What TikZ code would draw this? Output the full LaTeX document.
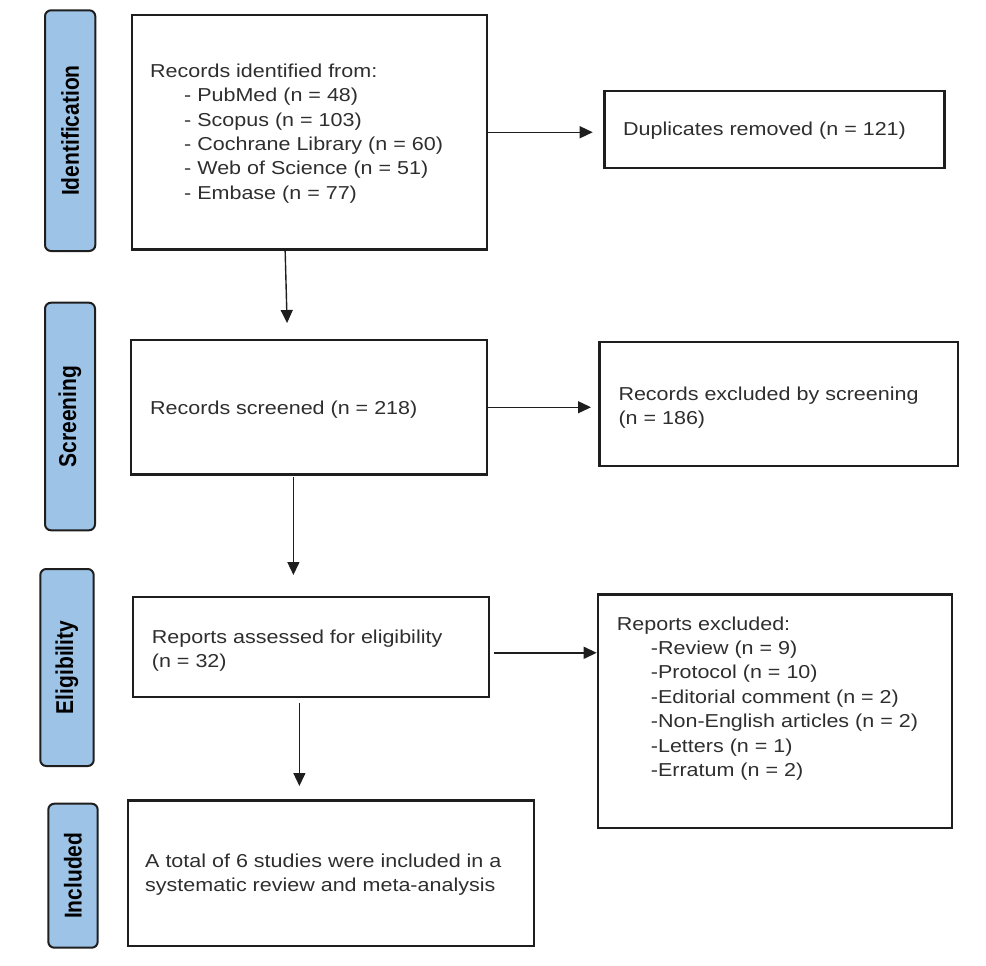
\documentclass[tikz,border=0pt]{standalone}
\usepackage{fontspec}
\setmainfont{Liberation Sans}
\newfontfamily\bodyf[FakeStretch=1.15]{Liberation Sans}
\usetikzlibrary{arrows.meta}
\definecolor{txtc}{HTML}{2E2E2E}
\definecolor{edgec}{HTML}{1E1E1E}
\definecolor{sidec}{HTML}{9DC3E6}
\begin{document}
\begin{tikzpicture}[x=1pt,y=-1pt,
  box/.style={draw=edgec, line width=2.2pt, rectangle, inner sep=0pt, anchor=north west},
  sidebox/.style={draw=edgec, fill=sidec, line width=2pt, rounded corners=6pt, rectangle, inner sep=0pt, anchor=north west},
  lab/.style={rotate=90, inner sep=0pt, text=black, font=\bfseries\fontsize{21}{21}\selectfont},
  txt/.style={anchor=base west, inner sep=0pt, text=txtc, font=\bodyf\fontsize{18.7}{24.4}\selectfont},
  arr/.style={draw=edgec, line width=1.4pt, -{Triangle[length=13pt,width=12pt]}}]
\useasboundingbox (0,0) rectangle (986,966);

% side boxes
\node[sidebox, minimum width=50.3pt, minimum height=240.7pt] (sid) at (44,9.3) {};
\node[sidebox, minimum width=50pt, minimum height=227.6pt] (ssc) at (44,301.7) {};
\node[sidebox, minimum width=53.4pt, minimum height=197pt] (sel) at (39.3,568) {};
\node[sidebox, minimum width=49.4pt, minimum height=144pt] (sin) at (47.3,802.7) {};
\node[lab] (lid) at (sid.center) {\scalebox{1}[1.16]{Identification}};
\node[lab] (lsc) at (ssc.center) {\scalebox{1}[1.16]{Screening}};
\node[lab] (lel) at (sel.center) {\scalebox{1}[1.16]{Eligibility}};
\node[lab] (lin) at (sin.center) {\scalebox{1}[1.16]{Included}};

% main boxes
\node[box, minimum width=355.3pt, minimum height=234.3pt] (ident) at (130.7,14) {};
\node[box, minimum width=340pt, minimum height=76.7pt] (dup) at (603.3,90) {};
\node[box, minimum width=356pt, minimum height=134.3pt] (screen) at (130,339) {};
\node[box, minimum width=358.4pt, minimum height=124pt] (excl) at (598.3,341) {};
\node[box, minimum width=356pt, minimum height=100pt] (elig) at (131.7,596) {};
\node[box, minimum width=354pt, minimum height=233.4pt] (rep) at (596.7,593.3) {};
\node[box, minimum width=406pt, minimum height=145.7pt] (incl) at (126.7,799.3) {};

% texts
\node[txt] (t1) at (150,77.3) {Records identified from:};
\node[txt] (t2) at (184,101.7) {- PubMed (n = 48)};
\node[txt] (t3) at (184,126.1) {- Scopus (n = 103)};
\node[txt] (t4) at (184,150.5) {- Cochrane Library (n = 60)};
\node[txt] (t5) at (184,174.9) {- Web of Science (n = 51)};
\node[txt] (t6) at (184,199.3) {- Embase (n = 77)};
\node[txt] (d1) at (623,135.5) {Duplicates removed (n = 121)};
\node[txt] (s1) at (150,414) {Records screened (n = 218)};
\node[txt] (e1) at (618.3,400) {Records excluded by screening};
\node[txt] (e2) at (618.3,424.4) {(n = 186)};
\node[txt] (g1) at (151.7,643.3) {Reports assessed for eligibility};
\node[txt] (g2) at (151.7,667.7) {(n = 32)};
\node[txt] (r0) at (616.7,630) {Reports excluded:};
\node[txt] (r1) at (650.7,654.4) {-Review (n = 9)};
\node[txt] (r2) at (650.7,678.8) {-Protocol (n = 10)};
\node[txt] (r3) at (650.7,703.2) {-Editorial comment (n = 2)};
\node[txt] (r4) at (650.7,727.6) {-Non-English articles (n = 2)};
\node[txt] (r5) at (650.7,752) {-Letters (n = 1)};
\node[txt] (r6) at (650.7,776.4) {-Erratum (n = 2)};
\node[txt] (i1) at (145,867.3) {A total of 6 studies were included in a};
\node[txt] (i2) at (145,891.7) {systematic review and meta-analysis};

% connectors
\draw[arr] (ident.east) -- ([xshift=-10.6pt]dup.west |- ident.east);
\draw[arr] ([xshift=-24.3pt]ident.south) -- ([xshift=-22pt,yshift=16pt]screen.north);
\draw[arr] (screen.east) -- ([xshift=-7.3pt]excl.west |- screen.east);
\draw[arr] ([xshift=-15.7pt,yshift=-1.7pt]screen.south) -- ([xshift=-17.4pt,yshift=21pt]elig.north);
\draw[arr] ([xshift=4pt,yshift=-5.7pt]elig.east) -- ([yshift=-5.7pt]elig.east -| rep.west);
\draw[arr] ([xshift=-11.4pt,yshift=-4.7pt]elig.south) -- ([xshift=-31.4pt,yshift=13.3pt]incl.north);
\end{tikzpicture}
\end{document}
